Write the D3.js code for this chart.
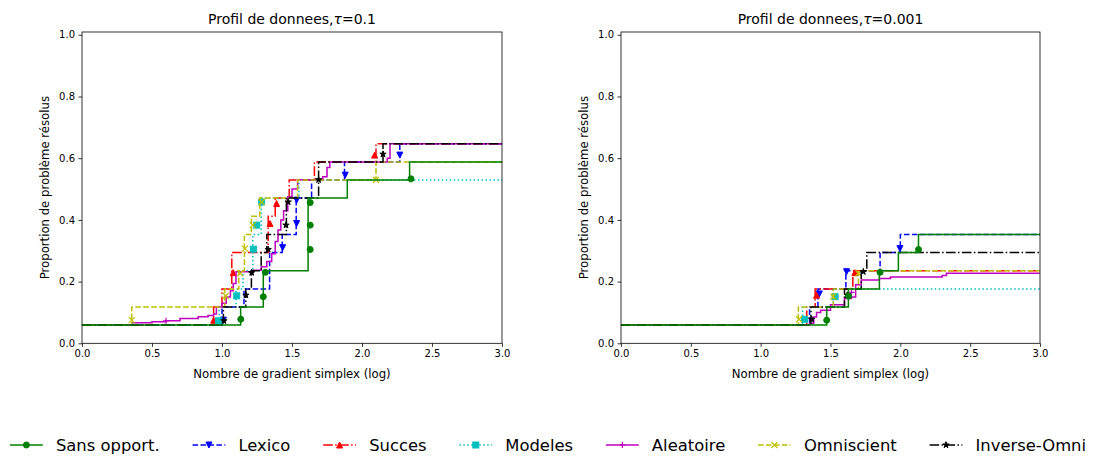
<!DOCTYPE html>
<html>
<head>
<meta charset="utf-8">
<script src="https://cdn.jsdelivr.net/npm/d3@7"></script>
<style>
  body { margin: 0; background: #fff; }
  text { font-family: "DejaVu Sans", sans-serif; fill: #000; }
</style>
</head>
<body>
<script>
// Series names and styles (matplotlib look)
const categories = ["Sans opport.", "Lexico", "Succes", "Modeles", "Aleatoire", "Omniscient", "Inverse-Omni"];
const colors = ["#008000", "#0000ff", "#ff0000", "#00bfbf", "#bf00bf", "#bfbf00", "#000000"];
const dashes = [null, "5.55,2.4", "9.6,2.4,1.5,2.4", "1.5,2.475", null, "5.55,2.4", "9.6,2.4,1.5,2.4"];
const markerTypes = ["o", "v", "^", "s", "+", "x", "*"];

const xTicks = [0, 0.5, 1.0, 1.5, 2.0, 2.5, 3.0];
const yTicks = [0, 0.2, 0.4, 0.6, 0.8, 1.0];

// ---- tau = 0.1 : step points [x, y] (y holds until next x) ----
const sans_t1 = [[0, 0.059], [1.133, 0.118], [1.295, 0.235], [1.615, 0.471], [1.895, 0.529], [2.34, 0.588], [3, 0.588]];
const lexico_t1 = [[0, 0.059], [1.0, 0.118], [1.157, 0.176], [1.34, 0.294], [1.43, 0.353], [1.53, 0.471], [1.64, 0.529], [1.875, 0.588], [2.27, 0.647], [3, 0.647]];
const succes_t1 = [[0, 0.059], [0.94, 0.118], [1.0, 0.176], [1.07, 0.294], [1.33, 0.412], [1.38, 0.471], [1.48, 0.529], [1.66, 0.588], [2.1, 0.647], [3, 0.647]];
const modeles_t1 = [[0, 0.059], [0.98, 0.118], [1.1, 0.176], [1.15, 0.235], [1.22, 0.353], [1.28, 0.471], [1.55, 0.529], [3, 0.529]];
const aleatoire_t1 = [[0, 0.059], [0.355, 0.067], [0.5, 0.07], [0.6, 0.073], [0.7, 0.08], [0.83, 0.086], [0.9, 0.09], [0.94, 0.095],
  [0.96, 0.118], [1.0, 0.13], [1.03, 0.15], [1.06, 0.17], [1.08, 0.194], [1.1, 0.232], [1.22, 0.237], [1.28, 0.248], [1.32, 0.265],
  [1.355, 0.29], [1.38, 0.33], [1.4, 0.367], [1.42, 0.4], [1.44, 0.43], [1.47, 0.475], [1.5, 0.5], [1.54, 0.53], [1.72, 0.54],
  [1.75, 0.57], [1.77, 0.588], [2.18, 0.6], [2.2, 0.647], [3, 0.647]];
const omniscient_t1 = [[0, 0.059], [0.355, 0.118], [1.02, 0.176], [1.12, 0.235], [1.16, 0.353], [1.21, 0.412], [1.27, 0.471], [1.54, 0.529], [2.1, 0.588], [3, 0.588]];
const inverse_t1 = [[0, 0.059], [1.01, 0.118], [1.17, 0.176], [1.21, 0.235], [1.28, 0.294], [1.32, 0.353], [1.46, 0.471], [1.69, 0.588], [2.15, 0.647], [3, 0.647]];

// marker positions, tau = 0.1
const sansMk_t1 = [[1.134, 0.078], [1.295, 0.151], [1.31, 0.23], [1.63, 0.304], [1.63, 0.383], [1.63, 0.456], [2.35, 0.533]];
const lexicoMk_t1 = [[1.01, 0.075], [1.433, 0.31], [1.533, 0.388], [1.533, 0.464], [1.88, 0.545], [2.27, 0.61]];
const succesMk_t1 = [[0.94, 0.075], [1.08, 0.229], [1.343, 0.388], [1.39, 0.453], [2.09, 0.61]];
const modelesMk_t1 = [[0.975, 0.073], [1.105, 0.154], [1.224, 0.305], [1.248, 0.383], [1.283, 0.458]];
const aleatoireMk_t1 = [[0.6, 0.073]];
const omniscientMk_t1 = [[0.355, 0.075], [1.026, 0.154], [1.13, 0.227], [1.164, 0.307], [1.22, 0.383], [1.283, 0.458], [2.1, 0.53]];
const inverseMk_t1 = [[1.014, 0.073], [1.171, 0.156], [1.212, 0.229], [1.33, 0.304], [1.457, 0.383], [1.473, 0.458], [1.69, 0.53], [2.15, 0.613]];

// ---- tau = 0.001 ----
const sans_t2 = [[0, 0.059], [1.473, 0.118], [1.628, 0.176], [1.85, 0.235], [1.986, 0.294], [2.13, 0.353], [3, 0.353]];
const lexico_t2 = [[0, 0.059], [1.35, 0.118], [1.41, 0.176], [1.61, 0.235], [1.855, 0.294], [2.0, 0.353], [3, 0.353]];
const succes_t2 = [[0, 0.059], [1.33, 0.118], [1.39, 0.176], [1.66, 0.235], [3, 0.235]];
const modeles_t2 = [[0, 0.059], [1.3, 0.118], [1.52, 0.176], [3, 0.176]];
const aleatoire_t2 = [[0, 0.059], [1.35, 0.065], [1.38, 0.085], [1.4, 0.1], [1.43, 0.107], [1.5, 0.125], [1.6, 0.145], [1.65, 0.15],
  [1.68, 0.19], [1.72, 0.205], [1.85, 0.21], [1.93, 0.215], [2.3, 0.22], [2.33, 0.227], [3, 0.227]];
const omniscient_t2 = [[0, 0.059], [1.27, 0.118], [1.52, 0.176], [1.7, 0.235], [3, 0.235]];
const inverse_t2 = [[0, 0.059], [1.36, 0.118], [1.6, 0.176], [1.72, 0.235], [1.76, 0.294], [3, 0.294]];

const sansMk_t2 = [[1.473, 0.075], [1.63, 0.153], [1.855, 0.23], [2.13, 0.304]];
const lexicoMk_t2 = [[1.42, 0.16], [1.615, 0.232], [1.997, 0.307]];
const succesMk_t2 = [[1.4, 0.156], [1.675, 0.229]];
const modelesMk_t2 = [[1.314, 0.078], [1.533, 0.151]];
const aleatoireMk_t2 = [[1.65, 0.165]];
const omniscientMk_t2 = [[1.275, 0.078], [1.52, 0.151], [1.7, 0.227]];
const inverseMk_t2 = [[1.365, 0.078], [1.62, 0.156], [1.735, 0.232]];

const panels = [
  { tau: "0.1", left: 82, right: 502,
    steps: [sans_t1, lexico_t1, succes_t1, modeles_t1, aleatoire_t1, omniscient_t1, inverse_t1],
    marks: [sansMk_t1, lexicoMk_t1, succesMk_t1, modelesMk_t1, aleatoireMk_t1, omniscientMk_t1, inverseMk_t1] },
  { tau: "0.001", left: 621, right: 1040,
    steps: [sans_t2, lexico_t2, succes_t2, modeles_t2, aleatoire_t2, omniscient_t2, inverse_t2],
    marks: [sansMk_t2, lexicoMk_t2, succesMk_t2, modelesMk_t2, aleatoireMk_t2, omniscientMk_t2, inverseMk_t2] }
];

const width = 1097, height = 456;
const plotTop = 32, plotBottom = 343.3;
const drawOrder = [1, 2, 3, 4, 5, 6, 0];   // green ends up on top

const svg = d3.select("body").append("svg")
  .attr("width", width)
  .attr("height", height);

// matplotlib-like marker, size 6
function addMarker(g, type, color, x, y) {
  const s = 3;
  if (type === "o") {
    g.append("circle").attr("cx", x).attr("cy", y).attr("r", s)
      .attr("fill", color).attr("stroke", color).attr("stroke-width", 1);
  } else if (type === "v" || type === "^") {
    const d = type === "^"
      ? `M${x},${y - s}L${x - s},${y + s}L${x + s},${y + s}Z`
      : `M${x},${y + s}L${x - s},${y - s}L${x + s},${y - s}Z`;
    g.append("path").attr("d", d).attr("fill", color).attr("stroke", color).attr("stroke-width", 1);
  } else if (type === "s") {
    g.append("rect").attr("x", x - s).attr("y", y - s).attr("width", 2 * s).attr("height", 2 * s)
      .attr("fill", color).attr("stroke", color).attr("stroke-width", 1);
  } else if (type === "*") {
    const pts = [];
    for (let i = 0; i < 10; i++) {
      const r = i % 2 === 0 ? s * 1.1 : s * 1.1 * 0.381966;
      const a = -Math.PI / 2 + i * Math.PI / 5;
      pts.push([x + r * Math.cos(a), y + r * Math.sin(a)]);
    }
    g.append("path").attr("d", "M" + pts.join("L") + "Z")
      .attr("fill", color).attr("stroke", color).attr("stroke-width", 1).attr("stroke-linejoin", "miter");
  } else if (type === "+") {
    g.append("path").attr("d", `M${x - s},${y}H${x + s}M${x},${y - s}V${y + s}`)
      .attr("stroke", color).attr("stroke-width", 1.2).attr("fill", "none");
  } else if (type === "x") {
    g.append("path").attr("d", `M${x - s},${y - s}L${x + s},${y + s}M${x - s},${y + s}L${x + s},${y - s}`)
      .attr("stroke", color).attr("stroke-width", 1.2).attr("fill", "none");
  }
}

panels.forEach(p => {
  const x = d3.scaleLinear().domain([0, 3]).range([p.left, p.right]);
  const y = d3.scaleLinear().domain([0, 1.009]).range([plotBottom, plotTop]);
  const g = svg.append("g");

  const line = d3.line()
    .x(d => x(d[0]))
    .y(d => y(d[1]))
    .curve(d3.curveStepAfter);

  drawOrder.forEach(i => {
    const sg = g.append("g");
    sg.append("path")
      .attr("d", line(p.steps[i]))
      .attr("fill", "none")
      .attr("stroke", colors[i])
      .attr("stroke-width", 1.5)
      .attr("stroke-dasharray", dashes[i]);
    p.marks[i].forEach(m => addMarker(sg, markerTypes[i], colors[i], x(m[0]), y(m[1])));
  });

  // frame
  g.append("rect")
    .attr("x", p.left).attr("y", plotTop)
    .attr("width", p.right - p.left).attr("height", plotBottom - plotTop)
    .attr("fill", "none").attr("stroke", "#000").attr("stroke-width", 0.8);

  // x axis
  const xAxis = d3.axisBottom(x).tickValues(xTicks).tickFormat(d3.format(".1f"))
    .tickSizeInner(3.5).tickSizeOuter(0).tickPadding(3.5);
  const xa = g.append("g").attr("transform", `translate(0,${plotBottom})`).call(xAxis);
  xa.select(".domain").remove();
  xa.selectAll("line").attr("stroke", "#000").attr("stroke-width", 0.8);
  xa.selectAll("text").attr("font-size", 10).attr("font-family", "DejaVu Sans").attr("fill", "#000");

  // y axis
  const yAxis = d3.axisLeft(y).tickValues(yTicks).tickFormat(d3.format(".1f"))
    .tickSizeInner(3.5).tickSizeOuter(0).tickPadding(3.5);
  const ya = g.append("g").attr("transform", `translate(${p.left},0)`).call(yAxis);
  ya.select(".domain").remove();
  ya.selectAll("line").attr("stroke", "#000").attr("stroke-width", 0.8);
  ya.selectAll("text").attr("font-size", 10).attr("font-family", "DejaVu Sans").attr("fill", "#000");

  // labels
  g.append("text")
    .attr("x", (p.left + p.right) / 2).attr("y", 377.5)
    .attr("text-anchor", "middle").attr("font-size", 11.7)
    .text("Nombre de gradient simplex (log)");
  g.append("text")
    .attr("transform", `translate(${p.left - 33.5},${(plotTop + plotBottom) / 2}) rotate(-90)`)
    .attr("text-anchor", "middle").attr("font-size", 11.7)
    .text("Proportion de problème résolus");

  const t = g.append("text")
    .attr("x", (p.left + p.right) / 2).attr("y", 24)
    .attr("text-anchor", "middle").attr("font-size", 14);
  t.append("tspan").text("Profil de donnees,");
  t.append("tspan").attr("font-style", "italic").text("τ");
  t.append("tspan").text("=" + p.tau);
});

// legend, one row under the plots, laid out like matplotlib (handle 2em, pad 0.8em, column gap 2em)
const legendFont = 16.4;
const legendY = 445;
const lg = svg.append("g");
let cursor = 10;
categories.forEach((name, i) => {
  const x0 = cursor;
  const handle = 2 * legendFont;
  lg.append("line")
    .attr("x1", x0).attr("x2", x0 + handle)
    .attr("y1", legendY).attr("y2", legendY)
    .attr("stroke", colors[i]).attr("stroke-width", 1.5)
    .attr("stroke-dasharray", dashes[i]);
  addMarker(lg, markerTypes[i], colors[i], x0 + handle / 2, legendY);
  const txt = lg.append("text")
    .attr("x", x0 + 2.8 * legendFont).attr("y", legendY + 5.5)
    .attr("font-size", legendFont)
    .text(name);
  cursor = x0 + 2.8 * legendFont + txt.node().getComputedTextLength() + 2 * legendFont;
});
</script>
</body>
</html>
